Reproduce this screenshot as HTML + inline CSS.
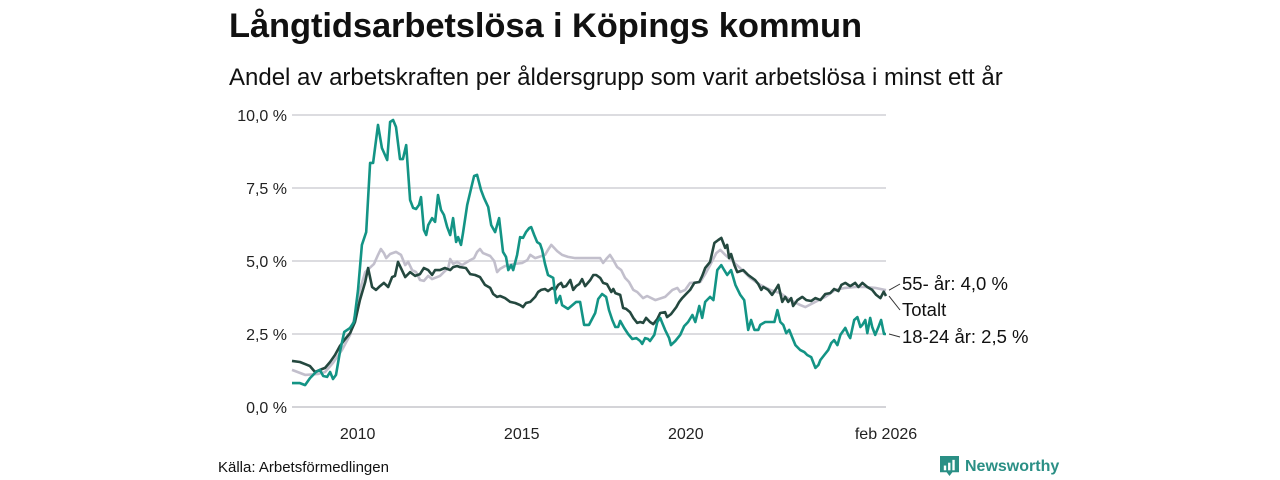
<!DOCTYPE html>
<html><head><meta charset="utf-8">
<style>
body{margin:0;width:1280px;height:480px;background:#fff;font-family:"Liberation Sans",sans-serif;overflow:hidden;position:relative}
#title{position:absolute;left:229px;top:7px;font-size:34.5px;font-weight:bold;color:#111;letter-spacing:-0.1px;white-space:nowrap}
#subtitle{position:absolute;left:229px;top:64px;font-size:24px;color:#111;white-space:nowrap}
#source{position:absolute;left:218px;top:459px;font-size:15px;color:#111}
#logo{position:absolute;left:940px;top:456px;font-size:16px;font-weight:bold;color:#2a8f85;display:flex;align-items:center;gap:6px}
svg{position:absolute;left:0;top:0}
</style></head><body>
<div id="title">Långtidsarbetslösa i Köpings kommun</div>
<div id="subtitle">Andel av arbetskraften per åldersgrupp som varit arbetslösa i minst ett år</div>
<svg id="chart" width="1280" height="480"></svg>
<div id="source">Källa: Arbetsförmedlingen</div>
<div id="logo">
<svg width="19" height="21" viewBox="0 0 20 22" style="position:static"><path d="M0 0H20V17H13L10 21L7 17H0Z" fill="#2a8f85"/><rect x="4" y="10" width="2.5" height="5" fill="#fff"/><rect x="8.5" y="7" width="2.5" height="8" fill="#fff"/><rect x="13" y="4" width="2.5" height="11" fill="#fff"/></svg>
<span>Newsworthy</span></div>
<script>
const yTicks=[0,2.5,5,7.5,10];
const yTickLabels=["0,0 %","2,5 %","5,0 %","7,5 %","10,0 %"];
const xTicks=[2010,2015,2020,2026.1];
const xTickLabels=["2010","2015","2020","feb 2026"];
const youngDates=[2008.00,2008.24,2008.40,2008.55,2008.73,2008.85,2008.95,2009.07,2009.16,2009.25,2009.34,2009.46,2009.59,2009.77,2009.89,2010.01,2010.13,2010.26,2010.38,2010.47,2010.62,2010.74,2010.90,2010.99,2011.08,2011.17,2011.29,2011.38,2011.48,2011.60,2011.69,2011.78,2011.87,2011.93,2012.02,2012.09,2012.15,2012.27,2012.36,2012.45,2012.54,2012.63,2012.73,2012.82,2012.91,2013.00,2013.06,2013.15,2013.21,2013.34,2013.46,2013.55,2013.64,2013.76,2013.85,2013.98,2014.07,2014.19,2014.25,2014.31,2014.43,2014.52,2014.59,2014.68,2014.74,2014.86,2014.95,2015.04,2015.13,2015.23,2015.29,2015.38,2015.47,2015.56,2015.62,2015.71,2015.80,2015.96,2016.05,2016.17,2016.23,2016.41,2016.66,2016.78,2016.90,2017.05,2017.24,2017.33,2017.45,2017.57,2017.66,2017.76,2017.85,2017.94,2018.00,2018.12,2018.24,2018.37,2018.49,2018.61,2018.67,2018.76,2018.85,2018.91,2019.04,2019.13,2019.22,2019.28,2019.37,2019.49,2019.55,2019.68,2019.83,2019.95,2020.07,2020.20,2020.29,2020.41,2020.50,2020.59,2020.74,2020.84,2020.96,2021.08,2021.17,2021.26,2021.38,2021.51,2021.66,2021.78,2021.90,2021.99,2022.09,2022.21,2022.27,2022.42,2022.57,2022.70,2022.79,2022.88,2022.97,2023.06,2023.15,2023.21,2023.34,2023.49,2023.61,2023.70,2023.82,2023.95,2024.04,2024.10,2024.22,2024.34,2024.43,2024.52,2024.62,2024.71,2024.86,2024.95,2025.01,2025.13,2025.23,2025.32,2025.38,2025.47,2025.53,2025.62,2025.68,2025.77,2025.86,2025.95,2026.04,2026.10];
const youngValues=[0.82,0.82,0.75,0.99,1.2,1.27,1.06,1.03,1.2,0.96,1.1,1.88,2.57,2.71,2.91,4.0,5.55,5.99,8.36,8.36,9.66,8.87,8.46,9.76,9.83,9.59,8.49,8.49,8.97,7.09,6.82,6.78,6.92,7.19,6.06,5.89,6.23,6.47,6.34,7.26,6.75,6.58,6.16,5.89,6.47,5.65,5.82,5.55,5.96,6.92,7.5,7.91,7.95,7.43,7.16,6.85,6.23,5.99,6.23,6.47,5.31,5.14,4.69,4.86,4.69,5.21,5.82,5.79,5.99,6.13,6.16,5.89,5.65,5.58,5.38,4.9,4.52,4.42,3.56,3.8,3.49,3.36,3.6,3.6,2.81,2.81,3.22,3.7,3.87,3.77,3.32,2.98,2.74,2.74,2.95,2.71,2.5,2.33,2.36,2.26,2.16,2.36,2.33,2.26,2.47,2.91,3.05,2.88,2.64,2.36,2.12,2.26,2.47,2.77,2.91,3.15,2.91,3.46,3.05,3.6,3.77,3.66,4.69,4.86,4.69,4.52,4.69,4.18,3.84,3.66,2.64,2.98,2.64,2.64,2.81,2.91,2.91,2.91,3.32,2.91,2.81,2.53,2.64,2.47,2.12,1.95,1.88,1.78,1.71,1.34,1.44,1.61,1.78,1.95,2.19,2.29,2.12,2.47,2.71,2.47,2.36,2.98,3.08,2.74,2.81,2.98,2.53,3.05,2.74,2.47,2.71,2.98,2.5,2.5];
const totalDates=[2008.00,2008.24,2008.40,2008.55,2008.70,2008.85,2009.01,2009.16,2009.31,2009.46,2009.62,2009.77,2009.92,2010.07,2010.23,2010.32,2010.44,2010.56,2010.68,2010.80,2010.93,2011.05,2011.14,2011.23,2011.35,2011.45,2011.60,2011.75,2011.90,2012.02,2012.15,2012.27,2012.36,2012.51,2012.66,2012.82,2012.91,2013.03,2013.12,2013.30,2013.43,2013.58,2013.73,2013.88,2014.04,2014.13,2014.25,2014.34,2014.49,2014.65,2014.80,2014.95,2015.04,2015.13,2015.26,2015.41,2015.50,2015.59,2015.71,2015.80,2015.93,2016.02,2016.11,2016.20,2016.26,2016.35,2016.48,2016.57,2016.66,2016.75,2016.84,2016.93,2017.09,2017.18,2017.27,2017.39,2017.48,2017.60,2017.73,2017.79,2017.85,2018.00,2018.09,2018.18,2018.30,2018.40,2018.52,2018.61,2018.70,2018.79,2018.91,2019.01,2019.13,2019.22,2019.37,2019.43,2019.55,2019.71,2019.80,2019.89,2020.01,2020.13,2020.26,2020.41,2020.50,2020.59,2020.74,2020.87,2020.99,2021.08,2021.20,2021.26,2021.32,2021.38,2021.48,2021.57,2021.75,2021.90,2022.11,2022.21,2022.30,2022.36,2022.51,2022.63,2022.73,2022.82,2022.94,2023.03,2023.12,2023.21,2023.27,2023.40,2023.55,2023.67,2023.82,2023.95,2024.10,2024.25,2024.40,2024.52,2024.65,2024.74,2024.86,2025.01,2025.16,2025.26,2025.38,2025.53,2025.68,2025.80,2025.93,2026.03,2026.10];
const totalValues=[1.58,1.54,1.47,1.4,1.2,1.27,1.34,1.54,1.78,2.09,2.33,2.53,2.91,3.66,4.28,4.76,4.11,4.01,4.14,4.25,4.11,4.45,4.49,4.97,4.69,4.45,4.62,4.49,4.55,4.76,4.69,4.52,4.69,4.69,4.76,4.69,4.79,4.83,4.79,4.76,4.55,4.52,4.45,4.18,4.08,3.87,3.77,3.8,3.73,3.6,3.56,3.49,3.42,3.56,3.6,3.77,3.94,4.01,4.04,3.97,4.08,4.01,4.18,4.25,4.11,4.14,4.35,4.01,4.14,4.21,4.38,4.14,4.35,4.52,4.52,4.42,4.25,4.21,3.94,4.04,3.9,3.84,3.39,3.36,3.25,3.05,2.88,2.91,2.88,3.05,2.91,2.84,3.01,3.22,3.25,3.08,3.18,3.42,3.6,3.73,3.87,4.01,4.25,4.28,4.49,4.76,4.97,5.62,5.72,5.79,5.45,5.55,5.1,5.24,4.86,4.62,4.69,4.52,4.35,4.21,4.01,4.11,4.01,3.84,4.01,4.18,3.6,3.77,3.6,3.73,3.46,3.66,3.77,3.66,3.63,3.73,3.66,3.87,3.9,4.04,3.97,4.18,4.25,4.14,4.25,4.11,4.25,4.11,4.01,3.84,3.73,3.95,3.8];
const olderDates=[2008.00,2008.40,2008.79,2009.01,2009.25,2009.52,2009.77,2009.92,2010.07,2010.23,2010.50,2010.62,2010.71,2010.80,2010.87,2010.99,2011.17,2011.32,2011.45,2011.54,2011.66,2011.78,2011.90,2012.02,2012.15,2012.27,2012.51,2012.63,2012.76,2012.82,2012.91,2013.03,2013.18,2013.43,2013.55,2013.64,2013.73,2013.82,2014.04,2014.16,2014.25,2014.34,2014.49,2014.77,2015.01,2015.17,2015.26,2015.41,2015.71,2015.80,2015.90,2016.08,2016.23,2016.41,2016.63,2017.39,2017.48,2017.60,2017.69,2017.79,2017.91,2018.03,2018.15,2018.27,2018.40,2018.52,2018.70,2018.82,2019.07,2019.37,2019.59,2019.74,2019.83,2019.98,2020.13,2020.44,2020.59,2020.74,2020.93,2021.05,2021.20,2021.45,2021.72,2021.96,2022.27,2022.57,2022.88,2023.18,2023.49,2023.64,2023.95,2024.25,2024.55,2024.86,2025.16,2025.47,2025.77,2026.10];
const olderValues=[1.27,1.1,1.13,1.2,1.51,1.95,2.47,3.15,4.01,4.62,4.9,5.21,5.41,5.27,5.1,5.24,5.31,5.21,4.86,4.97,4.69,4.62,4.35,4.32,4.49,4.38,4.49,4.62,4.76,5.07,4.9,4.97,4.86,5.03,5.1,5.31,5.41,5.27,5.17,5.0,4.62,4.73,4.83,4.9,4.93,5.03,5.21,5.1,5.21,5.38,5.55,5.34,5.21,5.14,5.1,5.1,4.93,5.1,5.21,5.03,4.79,4.69,4.42,4.28,4.01,3.94,3.73,3.8,3.66,3.77,4.01,4.08,3.94,4.01,4.25,4.28,4.55,4.86,5.27,5.38,5.21,4.97,4.69,4.42,4.18,4.01,3.9,3.66,3.49,3.42,3.6,3.77,4.01,4.08,4.11,4.11,4.08,4.0];

const svg=document.getElementById('chart');
const NS='http://www.w3.org/2000/svg';
const X0=292,X1=886,D0=2008.0,D1=2026.1,Y0=407,Y1=115;
function xs(d){return X0+(d-D0)/(D1-D0)*(X1-X0);}
function ys(v){return Y0-(v/10)*(Y0-Y1);}
function mk(tag,attrs){const e=document.createElementNS(NS,tag);for(const k in attrs)e.setAttribute(k,attrs[k]);svg.appendChild(e);return e;}
yTicks.forEach((t,i)=>{
  const l=mk('line',{x1:X0,x2:X1,y1:ys(t),y2:ys(t),stroke:t===0?'#d4d4d8':'#dcdce0','stroke-width':2});
  
  
  const tx=mk('text',{x:287,y:ys(t)+6,'text-anchor':'end','font-size':16,fill:'#222','font-family':'Liberation Sans, sans-serif'});
  tx.textContent=yTickLabels[i];
  
  
});
xTicks.forEach((t,i)=>{
  const tx=mk('text',{x:xs(t),y:439,'text-anchor':'middle','font-size':16,fill:'#222','font-family':'Liberation Sans, sans-serif'});
  tx.textContent=xTickLabels[i];
  
  
});
function line(dates,vals,color,name){
  const d=dates.map((t,i)=>(i?'L':'M')+xs(t).toFixed(1)+' '+ys(vals[i]).toFixed(1)).join(' ');
  const p=mk('path',{d:d,fill:'none',stroke:color,'stroke-width':2.6,'stroke-linejoin':'round'});
  
  
}
line(olderDates,olderValues,'#c2bfcc','line-55-plus');
line(totalDates,totalValues,'#24483f','line-total');
line(youngDates,youngValues,'#139485','line-18-24');
function lab(txt,y,fromY,name){
  const c=mk('line',{x1:889,y1:ys(fromY),x2:900,y2:y-6,stroke:'#333','stroke-width':1});
  
  
  const t=mk('text',{x:902,y:y,'font-size':18.5,fill:'#111','font-family':'Liberation Sans, sans-serif'});
  t.textContent=txt;
  
  
}
lab('55- år: 4,0 %',290,olderValues[olderValues.length-1],'label-55-plus');
lab('Totalt',316,totalValues[totalValues.length-1],'label-total');
lab('18-24 år: 2,5 %',343,youngValues[youngValues.length-1],'label-18-24');
</script>
</body></html>
